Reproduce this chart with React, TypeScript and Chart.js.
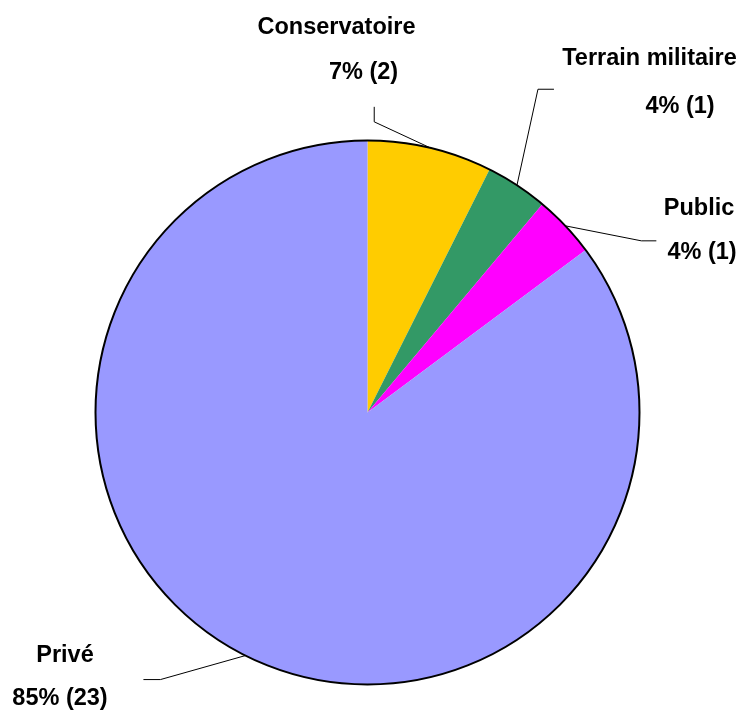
import React, { useEffect, useRef } from "react";
import { Chart, registerables } from "chart.js";

Chart.register(...registerables);

const categories = ["Conservatoire", "Terrain militaire", "Public", "Privé"];
const counts = [2, 1, 1, 23];
const sliceColors = ["#FFCC00", "#339966", "#FF00FF", "#9999FF"];

// Label layout, relative to the pie: leader elbow/end offsets from the slice's edge midpoint,
// text baseline centres relative to pie centre.
const labelLayout = [
  { elbow: [-56, -26], end: [-56, -41], name: [-31, -379], value: [-4, -334] },
  { elbow: [21, -96], end: [37, -96], name: [282, -347.5], value: [312.5, -300] },
  { elbow: [76, 15], end: [91, 15], name: [331.5, -197.5], value: [334.5, -153.5] },
  { elbow: [-85, 24], end: [-102, 24], name: [-302.5, 249], value: [-307.5, 292.5] },
];

const FONT = "bold 23.5px 'Liberation Sans', Arial, sans-serif";

const labelPlugin = {
  id: "pieLabels",
  afterDatasetsDraw(chart: any) {
    const ctx = chart.ctx;
    const meta = chart.getDatasetMeta(0);
    const arcs = meta.data;
    if (!arcs.length) return;
    const first = arcs[0];
    const cx = first.x;
    const cy = first.y;
    const r = first.outerRadius;
    ctx.save();
    // outer border
    ctx.beginPath();
    ctx.arc(cx, cy, r, 0, Math.PI * 2);
    ctx.lineWidth = 2;
    ctx.strokeStyle = "#000";
    ctx.stroke();

    const total = counts.reduce((a, b) => a + b, 0);
    arcs.forEach((arc: any, i: number) => {
      const mid = (arc.startAngle + arc.endAngle) / 2;
      const ax = cx + Math.cos(mid) * r;
      const ay = cy + Math.sin(mid) * r;
      const L = labelLayout[i];
      ctx.beginPath();
      ctx.moveTo(ax, ay);
      ctx.lineTo(ax + L.elbow[0], ay + L.elbow[1]);
      ctx.lineTo(ax + L.end[0], ay + L.end[1]);
      ctx.lineWidth = 1;
      ctx.strokeStyle = "#000";
      ctx.stroke();

      ctx.font = FONT;
      ctx.fillStyle = "#000";
      ctx.textAlign = "center";
      ctx.textBaseline = "alphabetic";
      ctx.fillText(categories[i], cx + L.name[0], cy + L.name[1]);
      const pct = Math.round((counts[i] / total) * 100);
      ctx.fillText(`${pct}% (${counts[i]})`, cx + L.value[0], cy + L.value[1]);
    });
    ctx.restore();
  },
};

export default function App() {
  const canvasRef = useRef<HTMLCanvasElement>(null);

  useEffect(() => {
    if (!canvasRef.current) return;
    const chart = new Chart(canvasRef.current, {
      type: "pie",
      data: {
        labels: categories,
        datasets: [
          {
            data: counts,
            backgroundColor: sliceColors,
            borderWidth: 0,
          },
        ],
      },
      options: {
        responsive: false,
        animation: false,
        devicePixelRatio: 1,
        layout: { padding: { left: 95.5, right: 103.5, top: 140.5, bottom: 25.5 } },
        plugins: {
          legend: { display: false },
          tooltip: { enabled: false },
        },
      },
      plugins: [labelPlugin],
    });
    return () => chart.destroy();
  }, []);

  return (
    <div style={{ position: "fixed", left: 0, top: 0, width: 743, height: 710, background: "#fff" }}>
      <canvas ref={canvasRef} width={743} height={710} />
    </div>
  );
}
